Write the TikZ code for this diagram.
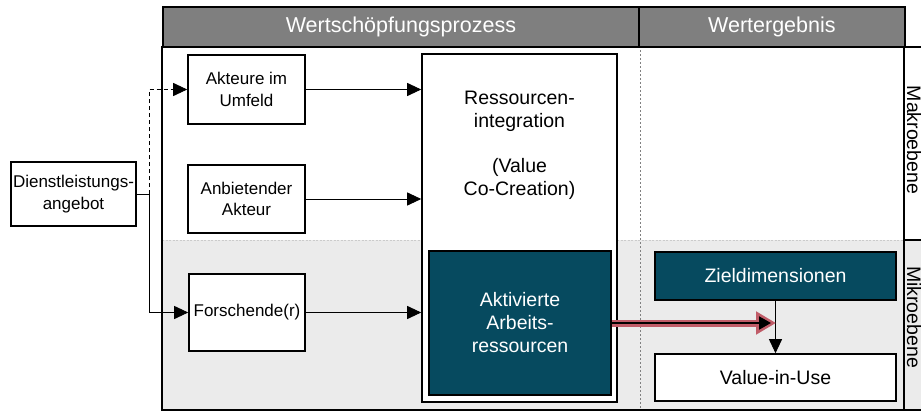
\documentclass[tikz,border=0pt]{standalone}
\usepackage{fontspec}
\setmainfont{Liberation Sans}
\usetikzlibrary{arrows.meta}
\definecolor{teal1}{RGB}{6,74,95}
\definecolor{hdr}{RGB}{127,127,127}
\definecolor{lgrey}{RGB}{235,235,235}
\definecolor{pinkred}{RGB}{192,92,104}
\tikzset{
  box/.style={draw=black, line width=1.6pt, fill=white, align=center, font=\fontsize{17}{21.5}\selectfont, inner sep=0pt},
  bigtext/.style={font=\fontsize{19.5}{23}\selectfont},
  darkbox/.style={box, bigtext, fill=teal1, text=white},
  conn/.style={line width=0.9pt, -{Triangle[length=14pt,width=13pt]}},
  hdrcell/.style={draw=black, line width=1.8pt, fill=hdr, text=white, font=\fontsize{21.5}{24}\selectfont},
  lvl/.style={rotate=-90, font=\fontsize{19.5}{22}\selectfont}
}
\begin{document}
\begin{tikzpicture}[x=1pt,y=-1pt]
\useasboundingbox (0,0) rectangle (921,412);
% background areas
\fill[lgrey] (162,240) rectangle (921,410);
\draw[lgrey!70!gray, line width=0.8pt, dash pattern=on 2pt off 1.5pt] (162,240) -- (904,240);
\draw[gray, line width=0.7pt, dash pattern=on 2pt off 2pt] (640,46) -- (640,410);
% frame
\draw[line width=1.8pt] (162,46) -- (162,410) -- (921,410);
\draw[line width=1.8pt] (904,46) -- (904,410);
\draw[line width=1.2pt] (904,47) -- (921,47);
\draw[line width=1.2pt] (904,240) -- (921,240);
% headers
\node[hdrcell, minimum width=476pt, minimum height=40pt, anchor=north west] (h1) at (162,6) {Wertschöpfungsprozess};
\node[hdrcell, minimum width=266pt, minimum height=40pt, anchor=north west] (h2) at (638,6) {Wertergebnis};
% level labels
\node[lvl] (makro) at (914,140) {Makroebene};
\node[lvl] (mikro) at (914,317) {Mikroebene};
% boxes
\node[box, minimum width=125pt, minimum height=64pt] (dl) at (73.5,194) {Dienstleistungs-\\angebot};
\node[box, minimum width=117pt, minimum height=69pt] (akt) at (246.5,89.5) {Akteure im\\Umfeld};
\node[box, minimum width=117pt, minimum height=68pt] (anb) at (246.5,199) {Anbietender\\Akteur};
\node[box, minimum width=116pt, minimum height=77pt] (fo) at (247,312.5) {Forschende(r)};
\node[box, minimum width=195pt, minimum height=348pt] (res) at (519.5,228) {};
\node[align=center, bigtext] (restext) at (519.5,145) {Ressourcen-\\integration\\[22pt](Value\\Co-Creation)};
\node[darkbox, minimum width=182pt, minimum height=144pt] (aar) at (520,323) {Aktivierte\\Arbeits-\\ressourcen};
\node[darkbox, minimum width=241pt, minimum height=48pt] (zd) at (775.5,276) {Zieldimensionen};
\node[box, bigtext, minimum width=241pt, minimum height=47pt] (viu) at (775.5,377.5) {Value-in-Use};
% connectors
\coordinate (j) at (149,194);
\coordinate (ju) at (149,89.5);
\coordinate (jd) at (149,312.5);
\draw[line width=0.9pt] (dl.east) -- (j);
\draw[conn, dash pattern=on 4pt off 3pt] (j) -- (ju) -- (akt.west);
\draw[conn] (j) -- (jd) -- (fo.west);
\draw[conn] (akt.east) -- (res.west |- akt.east);
\draw[conn] (anb.east) -- (res.west |- anb.east);
\draw[conn] (fo.east) -- (res.west |- fo.east);
\draw[conn] (zd.south) -- (viu.north);
% red arrow
\coordinate (rt) at (776,323);
\draw[pinkred, line width=7pt, -{Triangle[length=20pt,width=22pt]}] (aar.east |- rt) -- (rt);
\draw[black, line width=2pt, shorten >=5pt, -{Triangle[length=12pt,width=13pt]}] (aar.east |- rt) -- (rt);
\end{tikzpicture}
\end{document}
